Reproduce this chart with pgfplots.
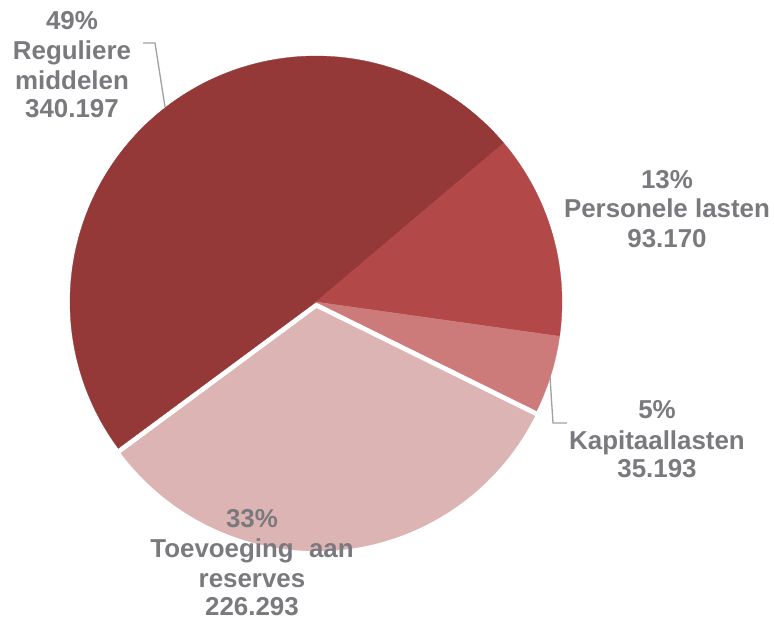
\documentclass[border=0pt]{standalone}
\usepackage{pgfplots}
\pgfplotsset{compat=1.18}
\usepackage{fontspec}
\setmainfont{Liberation Sans}
\definecolor{cReg}{HTML}{943838}
\definecolor{cPer}{HTML}{B24848}
\definecolor{cKap}{HTML}{CD7A7A}
\definecolor{cToe}{HTML}{DDB4B4}
\definecolor{txtgray}{HTML}{7A7A7E}
\definecolor{linegray}{HTML}{A0A0A0}
% data values
\def\vReg{340.197}
\def\vPer{93.170}
\def\vKap{35.193}
\def\vToe{226.293}
\pgfmathsetmacro\tot{\vReg+\vPer+\vKap+\vToe}
\pgfmathsetmacro\aA{216.5}
\pgfmathsetmacro\aB{\aA-360*(\vReg/\tot)}
\pgfmathsetmacro\aC{\aB-360*(\vPer/\tot)}
\pgfmathsetmacro\aD{\aC-360*(\vKap/\tot)}
\pgfmathsetmacro\aE{\aD-360*(\vToe/\tot)}
\pgfmathsetmacro\mE{(\aD+\aE)/2}
\def\cx{316}
\def\cy{323}
\def\R{246}
\pgfmathsetmacro\ex{\cx+4.5*cos(\mE)}
\pgfmathsetmacro\ey{\cy+4.5*sin(\mE)}
\newcommand\lbl[3]{\node[anchor=base, text=txtgray, font=\fontsize{26}{29}\selectfont\bfseries, inner sep=0pt] at (axis cs:#1,#2) {#3};}
\begin{document}
\begin{tikzpicture}
\begin{axis}[
  width=774bp, height=625bp, scale only axis,
  xmin=0, xmax=774, ymin=0, ymax=625,
  axis lines=none, clip=false,
]
\addplot[fill=cReg, draw=cReg, line width=0.3pt, domain=\aB:\aA, samples=120, variable=\t]
  ({\cx+\R*cos(\t)}, {\cy+\R*sin(\t)}) -- (axis cs:\cx,\cy) -- cycle;
\addplot[fill=cPer, draw=cPer, line width=0.3pt, domain=\aC:\aB, samples=40, variable=\t]
  ({\cx+\R*cos(\t)}, {\cy+\R*sin(\t)}) -- (axis cs:\cx,\cy) -- cycle;
\addplot[fill=cKap, draw=cKap, line width=0.3pt, domain=\aD:\aC, samples=20, variable=\t]
  ({\cx+\R*cos(\t)}, {\cy+\R*sin(\t)}) -- (axis cs:\cx,\cy) -- cycle;
\addplot[fill=cToe, draw=white, line width=2.5bp, line join=miter, domain=\aE:\aD, samples=100, variable=\t]
  ({\ex+\R*cos(\t)}, {\ey+\R*sin(\t)}) -- (axis cs:\ex,\ey) -- cycle;
% leader lines
\addplot[linegray, line width=1.3bp, mark=none] coordinates {(143,582) (155,582) (165,518)};
\addplot[linegray, line width=1.3bp, mark=none] coordinates {(550,248) (553,202) (567,202)};
% labels
\lbl{72}{595}{49\%}
\lbl{72}{565}{Reguliere}
\lbl{72}{535}{middelen}
\lbl{72}{507}{340.197}
\lbl{667}{436}{13\%}
\lbl{667}{407}{Personele lasten}
\lbl{667}{377}{93.170}
\lbl{657}{206}{5\%}
\lbl{657}{175}{Kapitaallasten}
\lbl{657}{147}{35.193}
\lbl{252}{97}{33\%}
\lbl{252}{67}{Toevoeging\hspace{8bp} aan}
\lbl{252}{37}{reserves}
\lbl{252}{10}{226.293}
\path (rel axis cs:0,0) rectangle (rel axis cs:1,1);
\end{axis}
\end{tikzpicture}
\end{document}
